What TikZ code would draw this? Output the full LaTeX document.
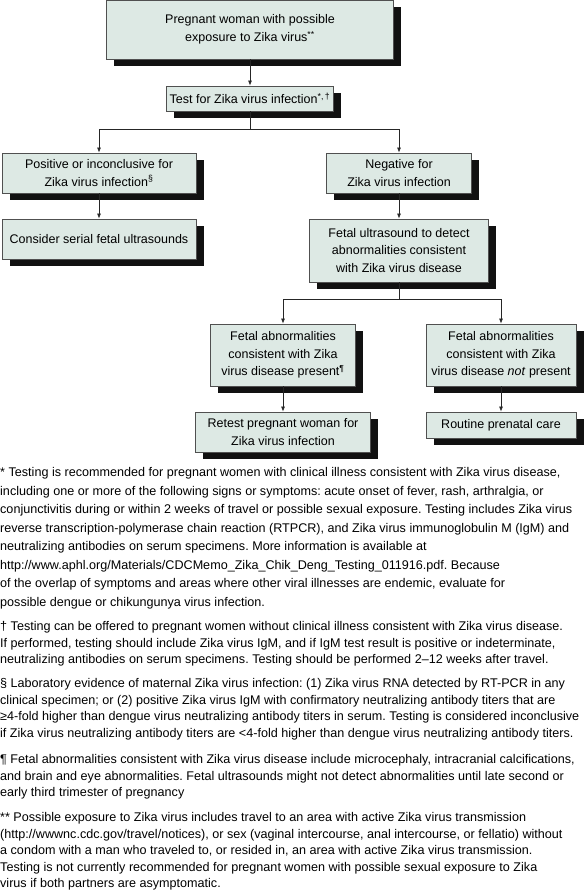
\documentclass[tikz,border=0pt]{standalone}
\usepackage{fontspec}
\setmainfont{Liberation Sans}
\usetikzlibrary{positioning, arrows.meta, calc, shadows}
\frenchspacing

\definecolor{boxfill}{HTML}{DDE9E4}
\definecolor{boxline}{HTML}{505050}
\definecolor{shadowgray}{HTML}{111111}

\tikzset{
    flowbox/.style={draw=boxline, line width=0.8pt, fill=boxfill, inner sep=0pt, align=center,
        font=\fontsize{12.5}{17.5}\selectfont,
        drop shadow={shadow xshift=7.5pt, shadow yshift=-7pt, opacity=1, fill=shadowgray}},
    conn/.style={-{Latex[length=5pt,width=4pt]}, line width=0.7pt, draw=black!85},
    notes/.style={anchor=north west, inner sep=0pt, align=left,
        font=\fontsize{12.6}{#1}\selectfont},
    notes/.default=16.5
}

\begin{document}
\begin{tikzpicture}[x=1pt, y=-1pt]
        \useasboundingbox (0,0) rectangle (588,893);

        % ==========================================
        % Flow chart boxes
        % ==========================================
        \node[flowbox, minimum width=287pt, minimum height=59pt] (expo) at (250,29.5)
            {Pregnant woman with possible\\exposure to Zika virus\textsuperscript{**}};
        \node[flowbox, minimum width=167pt, minimum height=25pt] (test) at (250,98.5)
            {Test for Zika virus infection\textsuperscript{*,\,†}};

        \node[flowbox, minimum width=194pt, minimum height=40pt] (pos) at (99,173)
            {Positive or inconclusive for\\Zika virus infection\textsuperscript{§}};
        \node[flowbox, minimum width=194pt, minimum height=40pt] (serial) at (99,239)
            {Consider serial fetal ultrasounds};

        \node[flowbox, minimum width=145pt, minimum height=40pt] (neg) at (399,173)
            {Negative for\\Zika virus infection};
        \node[flowbox, minimum width=179pt, minimum height=63pt] (ultra) at (399,250.5)
            {Fetal ultrasound to detect\\abnormalities consistent\\with Zika virus disease};

        \node[flowbox, minimum width=145pt, minimum height=62pt] (present) at (283,355)
            {Fetal abnormalities\\consistent with Zika\\virus disease present\textsuperscript{¶}};
        \node[flowbox, minimum width=175pt, minimum height=40pt] (retest) at (283,432)
            {Retest pregnant woman for\\Zika virus infection};

        \node[flowbox, minimum width=150pt, minimum height=62pt] (absent) at (501,355)
            {Fetal abnormalities\\consistent with Zika\\virus disease \textit{not} present};
        \node[flowbox, minimum width=150pt, minimum height=26pt] (routine) at (501,425)
            {Routine prenatal care};

        % ==========================================
        % Connectors
        % ==========================================
        \draw[conn] (expo.south) -- (test.north);

        % first split below the test
        \coordinate (split1) at ($(test.south)+(0,18)$);
        \draw[line width=0.7pt, draw=black!85] (test.south) -- (split1);
        \draw[conn] (split1) -| (pos.north);
        \draw[conn] (split1) -| (neg.north);
        \draw[conn] (pos.south) -- (serial.north);
        \draw[conn] (neg.south) -- (ultra.north);

        % second split below the ultrasound
        \coordinate (split2) at ($(ultra.south)+(0,17)$);
        \draw[line width=0.7pt, draw=black!85] (ultra.south) -- (split2);
        \draw[conn] (split2) -| (present.north);
        \draw[conn] (split2) -| (absent.north);
        \draw[conn] (present.south) -- (retest.north);
        \draw[conn] (absent.south) -- (routine.north);

        % ==========================================
        % Footnotes (top of first line = baseline - 9.5)
        % ==========================================
        \node[notes=18.5] (noteA) at (0,467.5) {%
            * Testing is recommended for pregnant women with clinical illness consistent with Zika virus disease,\\
            including one or more of the following signs or symptoms: acute onset of fever, rash, arthralgia, or\\
            conjunctivitis during or within 2 weeks of travel or possible sexual exposure. Testing includes Zika virus\\
            reverse transcription-polymerase chain reaction (RTPCR), and Zika virus immunoglobulin M (IgM) and\\
            neutralizing antibodies on serum specimens. More information is available at\\
            http://www.aphl.org/Materials/CDCMemo\_Zika\_Chik\_Deng\_Testing\_011916.pdf. Because\\
            of the overlap of symptoms and areas where other viral illnesses are endemic, evaluate for\\
            possible dengue or chikungunya virus infection.};

        \node[notes] (noteB) at (0,621.5) {%
            † Testing can be offered to pregnant women without clinical illness consistent with Zika virus disease.\\
            If performed, testing should include Zika virus IgM, and if IgM test result is positive or indeterminate,\\
            neutralizing antibodies on serum specimens. Testing should be performed 2–12 weeks after travel.};

        \node[notes] (noteC) at (0,678.5) {%
            § Laboratory evidence of maternal Zika virus infection: (1) Zika virus RNA detected by RT-PCR in any\\
            clinical specimen; or (2) positive Zika virus IgM with confirmatory neutralizing antibody titers that are\\
            ≥4-fold higher than dengue virus neutralizing antibody titers in serum. Testing is considered inconclusive\\
            if Zika virus neutralizing antibody titers are <4-fold higher than dengue virus neutralizing antibody titers.};

        \node[notes] (noteD) at (0,754.5) {%
            ¶ Fetal abnormalities consistent with Zika virus disease include microcephaly, intracranial calcifications,\\
            and brain and eye abnormalities. Fetal ultrasounds might not detect abnormalities until late second or\\
            early third trimester of pregnancy};

        \node[notes] (noteE) at (0,812.5) {%
            ** Possible exposure to Zika virus includes travel to an area with active Zika virus transmission\\
            (http://wwwnc.cdc.gov/travel/notices), or sex (vaginal intercourse, anal intercourse, or fellatio) without\\
            a condom with a man who traveled to, or resided in, an area with active Zika virus transmission.\\
            Testing is not currently recommended for pregnant women with possible sexual exposure to Zika\\
            virus if both partners are asymptomatic.};

    \end{tikzpicture}
\end{document}
